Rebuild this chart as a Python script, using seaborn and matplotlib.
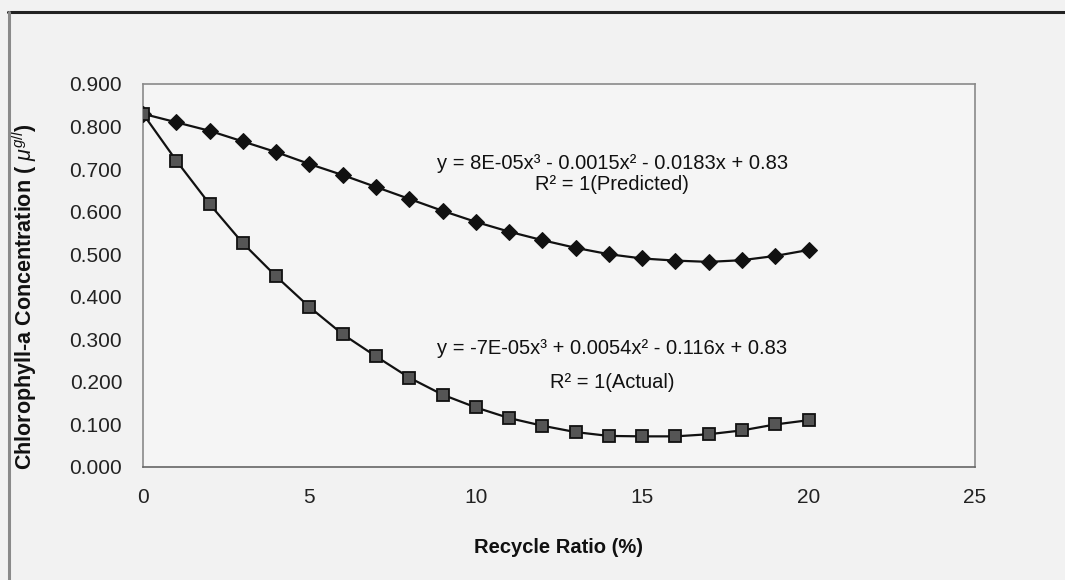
import matplotlib
matplotlib.use("Agg")
import matplotlib.pyplot as plt
from matplotlib.lines import Line2D
import seaborn as sns
import pandas as pd

# ---- data ----
recycle_ratio = list(range(0, 21))
predicted = [0.830, 0.810, 0.790, 0.765, 0.740, 0.712, 0.686, 0.658, 0.630, 0.602,
             0.576, 0.553, 0.533, 0.515, 0.500, 0.490, 0.485, 0.482, 0.486, 0.496, 0.510]
actual = [0.830, 0.720, 0.618, 0.526, 0.448, 0.376, 0.312, 0.260, 0.210, 0.170,
          0.140, 0.115, 0.097, 0.082, 0.073, 0.072, 0.072, 0.077, 0.086, 0.100, 0.110]

x_ticks = [0, 5, 10, 15, 20, 25]
y_ticks = [0.0, 0.1, 0.2, 0.3, 0.4, 0.5, 0.6, 0.7, 0.8, 0.9]

eq_predicted = "y = 8E-05x³ - 0.0015x² - 0.0183x + 0.83"
r2_predicted = "R² = 1(Predicted)"
eq_actual = "y = -7E-05x³ + 0.0054x² - 0.116x + 0.83"
r2_actual = "R² = 1(Actual)"

df_pred = pd.DataFrame({"x": recycle_ratio, "y": predicted})
df_act = pd.DataFrame({"x": recycle_ratio, "y": actual})

sns.set_theme(style="white")
plt.rcParams["font.family"] = ["Liberation Sans", "DejaVu Sans"]
plt.rcParams["mathtext.fontset"] = "custom"
plt.rcParams["mathtext.it"] = "Liberation Sans:italic"
plt.rcParams["mathtext.rm"] = "Liberation Sans"

fig = plt.figure(figsize=(10.65, 5.8), dpi=100, facecolor="#f2f2f2")
ax = fig.add_axes([143 / 1065, 1 - 467 / 580, (975 - 143) / 1065, (467 - 84) / 580])
ax.set_facecolor("#f5f5f5")

sns.lineplot(data=df_pred, x="x", y="y", ax=ax, color="#111111", linewidth=1.6,
             marker="D", markersize=8, markerfacecolor="#111111",
             markeredgecolor="#111111", zorder=3)
sns.lineplot(data=df_act, x="x", y="y", ax=ax, color="#111111", linewidth=1.6,
             marker="s", markersize=8, markerfacecolor="#555555",
             markeredgecolor="#111111", markeredgewidth=1.3, zorder=3)

ax.set_xlim(0, 25)
ax.set_ylim(0, 0.9)
ax.set_xticks(x_ticks)
ax.set_xticklabels([str(t) for t in x_ticks])
ax.set_yticks(y_ticks)
ax.set_yticklabels([f"{t:.3f}" for t in y_ticks])

for s in ax.spines.values():
    s.set_color("#8a8a8a")
    s.set_linewidth(1.2)
ax.spines["bottom"].set_color("#666666")

ax.tick_params(axis="both", which="major", direction="out", length=4, width=1,
               color="#8a8a8a", labelsize=15, labelcolor="#222222")
ax.tick_params(axis="x", pad=11)
ax.tick_params(axis="y", pad=11)

ax.set_xlabel("Recycle Ratio (%)", fontsize=14.5, fontweight="bold", color="#111111")
ax.set_ylabel(r"Chlorophyll-a Concentration ( $\mu^{g/l}$)", fontsize=15.5,
              fontweight="bold", color="#111111")
ax.xaxis.set_label_coords(0.5, -0.185)
ax.yaxis.set_label_coords(-0.125, 0.445)

ax.text(14.1, 0.714, eq_predicted, ha="center", va="center", fontsize=14.5, color="#111111")
ax.text(14.1, 0.665, r2_predicted, ha="center", va="center", fontsize=14.5, color="#111111")
ax.text(14.1, 0.279, eq_actual, ha="center", va="center", fontsize=14.5, color="#111111")
ax.text(14.1, 0.199, r2_actual, ha="center", va="center", fontsize=14.5, color="#111111")

# page frame lines of the scanned figure
fig.add_artist(Line2D([8 / 1065, 1.0], [1 - 12 / 580, 1 - 12 / 580],
                      transform=fig.transFigure, color="#222222", linewidth=2.2))
fig.add_artist(Line2D([9 / 1065, 9 / 1065], [0.0, 1 - 12 / 580],
                      transform=fig.transFigure, color="#8a8a8a", linewidth=2.2))

fig.savefig("out.png", dpi=100, facecolor=fig.get_facecolor())
